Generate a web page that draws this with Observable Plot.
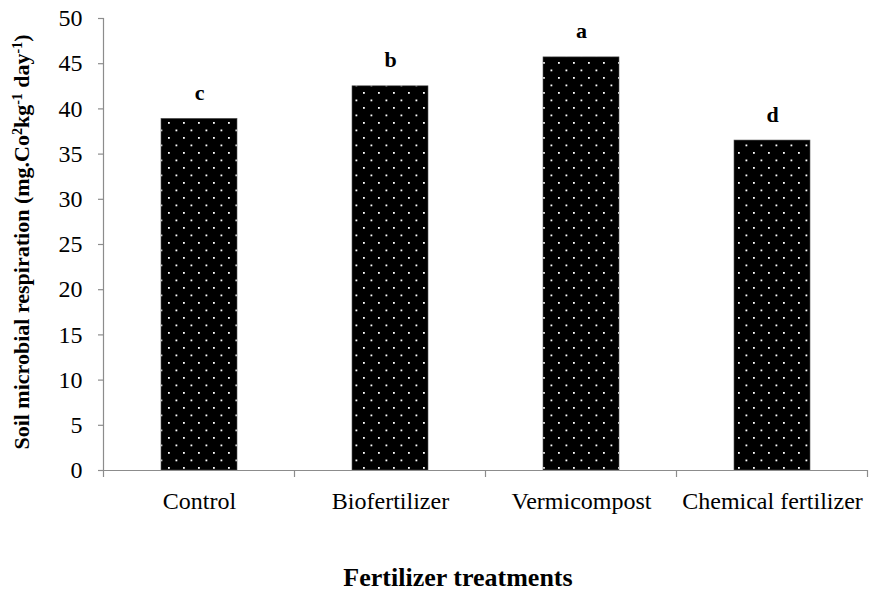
<!DOCTYPE html>
<html>
<head>
<meta charset="utf-8">
<script src="https://cdn.jsdelivr.net/npm/d3@7"></script>
<script src="https://cdn.jsdelivr.net/npm/@observablehq/plot@0.6"></script>
<style>
  body { margin: 0; background: #fff; }
  #chart svg { display: block; }
</style>
</head>
<body>
<div id="chart"></div>
<script>
const treatments = ["Control", "Biofertilizer", "Vermicompost", "Chemical fertilizer"];
const respiration = [38.9, 42.5, 45.7, 36.5];
const letters = ["c", "b", "a", "d"];
const yTicks = [0, 5, 10, 15, 20, 25, 30, 35, 40, 45, 50];

const data = treatments.map((t, i) => ({treatment: t, value: respiration[i], letter: letters[i]}));

const serif = "'Liberation Serif', 'Times New Roman', serif";
const axisColor = "#8c8c8c";

// Category boundary ticks + left axis line, derived from the scales
function axisDecor(index, scales, values, dimensions) {
  const x = scales.x, y = scales.y;
  const bw = x.bandwidth ? x.bandwidth() : 0;
  const step = x.step ? x.step() : bw;
  const gap = (step - bw) / 2;
  const g = d3.create("svg:g");
  const y0 = y(0);
  const bounds = [x(treatments[0]) - gap, ...treatments.map(t => x(t) + bw + gap)];
  g.selectAll("line.b").data(bounds).join("line")
    .attr("x1", d => d).attr("x2", d => d)
    .attr("y1", y0).attr("y2", y0 + 7)
    .attr("stroke", axisColor).attr("stroke-width", 1.2);
  g.append("line")
    .attr("x1", bounds[0]).attr("x2", bounds[0])
    .attr("y1", y(50)).attr("y2", y0)
    .attr("stroke", axisColor).attr("stroke-width", 1.2);
  return g.node();
}

const plot = Plot.plot({
  width: 870,
  height: 592,
  marginLeft: 104,
  marginRight: 2,
  marginTop: 18,
  marginBottom: 122,
  style: {fontFamily: serif, background: "#fff", color: "#000"},
  x: {domain: treatments, paddingInner: 0.6, paddingOuter: 0.3, label: null},
  y: {domain: [0, 50], label: null},
  marks: [
    Plot.barY(data, {x: "treatment", y: "value", fill: "url(#dotpat)", stroke: "#555", strokeWidth: 0.6}),
    Plot.ruleY([0], {stroke: axisColor, strokeWidth: 1.2}),
    axisDecor,
    Plot.axisY({ticks: yTicks, tickSize: 6, tickPadding: 16, fontSize: 24, stroke: axisColor, strokeWidth: 1.2, fill: "#000", label: null}),
    Plot.axisX({tickSize: 0, tickPadding: 21, fontSize: 24, fill: "#000", label: null}),
    Plot.text(data, {x: "treatment", y: "value", text: "letter", dy: -19, lineAnchor: "bottom", fontSize: 22, fontWeight: "bold", fill: "#000"})
  ]
});

// Dot pattern definition
const svg = d3.select(plot);
const defs = svg.insert("defs", ":first-child");
const pat = defs.append("pattern")
  .attr("id", "dotpat").attr("patternUnits", "userSpaceOnUse")
  .attr("width", 15).attr("height", 15);
pat.append("rect").attr("width", 15).attr("height", 15).attr("fill", "#000");
pat.append("rect").attr("x", 3).attr("y", 2).attr("width", 1.8).attr("height", 1.8).attr("fill", "#fff");
pat.append("rect").attr("x", 10.5).attr("y", 9.5).attr("width", 1.8).attr("height", 1.8).attr("fill", "#fff");

// Axis titles
const yt = svg.append("text")
  .attr("transform", "translate(29,242) rotate(-90)")
  .attr("text-anchor", "middle")
  .attr("font-family", serif)
  .attr("font-weight", "bold")
  .attr("font-size", 22)
  .attr("fill", "#000");
const parts = [["Soil microbial respiration (mg.Co", false], ["2", true], ["kg", false], ["-1", true], [" day", false], ["-1", true], [")", false]];
parts.forEach(([t, sup]) => {
  const ts = yt.append("tspan").text(t);
  if (sup) ts.attr("font-size", 14).attr("baseline-shift", "super");
});

svg.append("text")
  .attr("x", 458).attr("y", 586)
  .attr("text-anchor", "middle")
  .attr("font-family", serif)
  .attr("font-weight", "bold")
  .attr("font-size", 26)
  .attr("fill", "#000")
  .text("Fertilizer treatments");

document.getElementById("chart").appendChild(plot);
</script>
</body>
</html>
